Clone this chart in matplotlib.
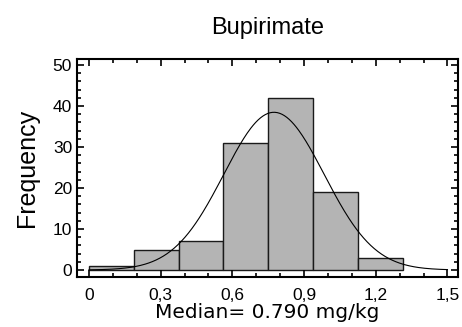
import numpy as np
import matplotlib
matplotlib.use('Agg')
import matplotlib.pyplot as plt
from matplotlib.ticker import MultipleLocator, FuncFormatter

# histogram of residues
bin_edges = [0, 0.1875, 0.375, 0.5625, 0.75, 0.9375, 1.125, 1.3125]
counts = [1, 5, 7, 31, 42, 19, 3]

# fitted normal curve
mu, sigma = 0.774, 0.21
n_total = sum(counts)
bin_width = bin_edges[1] - bin_edges[0]

plt.rcParams['font.family'] = ['Liberation Sans', 'DejaVu Sans']

fig = plt.figure(figsize=(4.62, 3.27), dpi=100)
ax = fig.add_axes([0.1667, 0.153, 0.8246, 0.667])

lefts = bin_edges[:-1]
widths = np.diff(bin_edges)
ax.bar(lefts, counts, width=widths, align='edge', color='#b4b4b4',
       edgecolor='#1a1a1a', linewidth=1.0)

xs = np.linspace(0, 1.5, 300)
ys = n_total * bin_width / (sigma * np.sqrt(2 * np.pi)) * np.exp(-0.5 * ((xs - mu) / sigma) ** 2)
ax.plot(xs, ys, color='black', linewidth=0.8)

ax.set_xlim(-0.05, 1.544)
ax.set_ylim(-1.7, 51.5)

ax.xaxis.set_major_locator(MultipleLocator(0.3))
ax.xaxis.set_minor_locator(MultipleLocator(0.1))
ax.yaxis.set_major_locator(MultipleLocator(10))
ax.yaxis.set_minor_locator(MultipleLocator(2))
ax.xaxis.set_major_formatter(FuncFormatter(lambda v, p: ('%g' % round(v, 1)).replace('.', ',')))

ax.tick_params(which='both', direction='in', top=True, right=True, labelsize=12.5, width=1.2)
ax.tick_params(which='major', length=5)
ax.tick_params(which='minor', length=3)
ax.tick_params(axis='x', pad=8)
for s in ax.spines.values():
    s.set_linewidth(1.5)

ax.set_ylabel('Frequency', fontsize=18, labelpad=10)
ax.set_xlabel('Median= 0.790 mg/kg', fontsize=14.5, family=['DejaVu Sans'], labelpad=0)
fig.text(0.58, 0.896, 'Bupirimate', ha='center', va='baseline', fontsize=17)

fig.savefig('out.png', dpi=100)
